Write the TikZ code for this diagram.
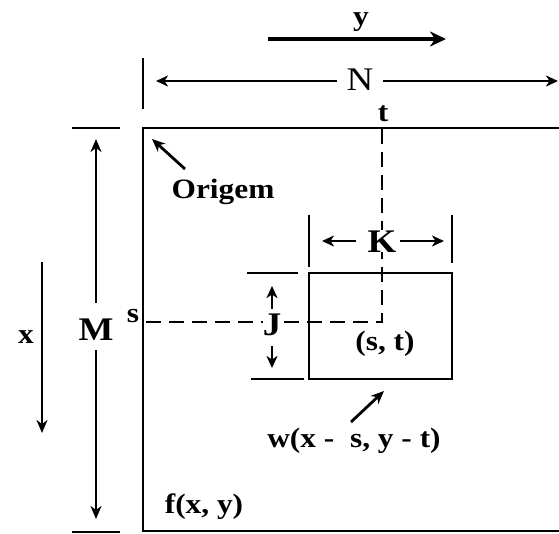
\documentclass[tikz,border=0pt]{standalone}
\usepackage{fontspec}
\setmainfont{Liberation Serif}[FakeStretch=1.12]
\usetikzlibrary{arrows.meta}
\tikzset{
  lbl/.style={font=\fontsize{28}{28}\selectfont\bfseries, inner sep=0pt, anchor=base},
  biglbl/.style={font=\fontsize{33}{33}\selectfont\bfseries, inner sep=0pt, anchor=base},
  nlbl/.style={font=\fontsize{33}{33}\selectfont, inner sep=0pt, anchor=base},
  frame/.style={line width=1.6pt},
  tick/.style={line width=1.6pt},
  arr/.style={line width=2.8pt, -{Stealth[length=13pt,width=11pt,inset=4pt]}},
  thinarr/.style={line width=2pt, -{Stealth[length=12pt,width=11pt,inset=3.5pt]}},
  dashline/.style={line width=1.4pt, dash pattern=on 15pt off 8pt}
}
\begin{document}
\begin{tikzpicture}[x=1pt,y=-1pt]
\useasboundingbox (0,0) rectangle (559,533);
\fill[white] (0,0) rectangle (559,533);
% dashed guides (drawn first, labels sit on top)
\coordinate (st) at (382,322);
\coordinate (ds) at (146,322);
\coordinate (dt) at (382,128);
\draw[dashline] (ds) -- (st) -- (dt);
% y direction
\node[lbl] (ylab) at (361,25) {y};
\coordinate (yt) at (268,39);
\coordinate (yh) at (446,39);
\draw[line width=4.5pt, -{Stealth[length=16pt,width=15pt,inset=5pt]}] (yt) -- (yh);
% N dimension
\coordinate (nt1) at (143,58);
\coordinate (nt2) at (143,109);
\draw[tick] (nt1) -- (nt2);
\node[nlbl] (N) at (360,90) {N};
\coordinate (nl) at (156,81);
\coordinate (nr) at (558,81);
\coordinate (ngl) at (337,81);
\coordinate (ngr) at (383,81);
\draw[thinarr] (ngl) -- (nl);
\draw[thinarr] (ngr) -- (nr);
\node[lbl] (t) at (383,121) {t};
% image frame
\coordinate (o) at (143,128);
\coordinate (tr) at (570,128);
\coordinate (bl) at (143,531);
\coordinate (br) at (570,531);
\draw[frame] (tr) -- (o) -- (bl) -- (br);
% M dimension
\coordinate (mt1) at (72,128);
\coordinate (mt2) at (120,128);
\coordinate (mb1) at (72,532);
\coordinate (mb2) at (120,532);
\draw[tick] (mt1) -- (mt2);
\draw[tick] (mb1) -- (mb2);
\node[biglbl] (M) at (96,340) {M};
\coordinate (mu0) at (96,303);
\coordinate (mu) at (96,139);
\coordinate (md0) at (96,350);
\coordinate (md) at (96,519);
\draw[arr] (mu0) -- (mu);
\draw[arr] (md0) -- (md);
% x direction
\node[lbl] (xlab) at (26,343) {x};
\coordinate (xt) at (42,262);
\coordinate (xh) at (42,433);
\draw[arr] (xt) -- (xh);
% s
\node[lbl] (s) at (133,322) {s};
% Origem
\node[lbl] (orig) at (223,198) {Origem};
\coordinate (ot) at (185,169);
\coordinate (oh) at (152,139);
\draw[arr] (ot) -- (oh);
% mask box
\coordinate (w1) at (309,273);
\coordinate (w2) at (452,379);
\draw[frame] (w1) rectangle (w2);
% K dimension
\draw[tick] (309,215) -- (309,267);
\draw[tick] (452,215) -- (452,263);
\node[biglbl, fill=white, inner xsep=1pt] (K) at (382,252) {K};
\coordinate (kl0) at (356,241);
\coordinate (kl) at (322,241);
\coordinate (kr0) at (400,241);
\coordinate (kr) at (444,241);
\draw[thinarr] (kl0) -- (kl);
\draw[thinarr] (kr0) -- (kr);
% J dimension
\draw[tick] (247,273) -- (298,273);
\draw[tick] (251,379) -- (304,379);
\node[biglbl, fill=white] (J) at (272,335) {J};
\coordinate (ju0) at (272,309);
\coordinate (ju) at (272,286);
\coordinate (jd0) at (272,346);
\coordinate (jd) at (272,368);
\draw[thinarr] (ju0) -- (ju);
\draw[thinarr] (jd0) -- (jd);
\node[lbl] (stl) at (385,350) {(s,\ t)};
% w label
\node[lbl] (wl) at (354,447) {w(x\ -\ \ s,\ y\ -\ t)};
\coordinate (wt) at (351,422);
\coordinate (wh) at (384,391);
\draw[arr] (wt) -- (wh);
% f label
\node[lbl] (fl) at (204,513) {f(x,\ y)};
\end{tikzpicture}
\end{document}
